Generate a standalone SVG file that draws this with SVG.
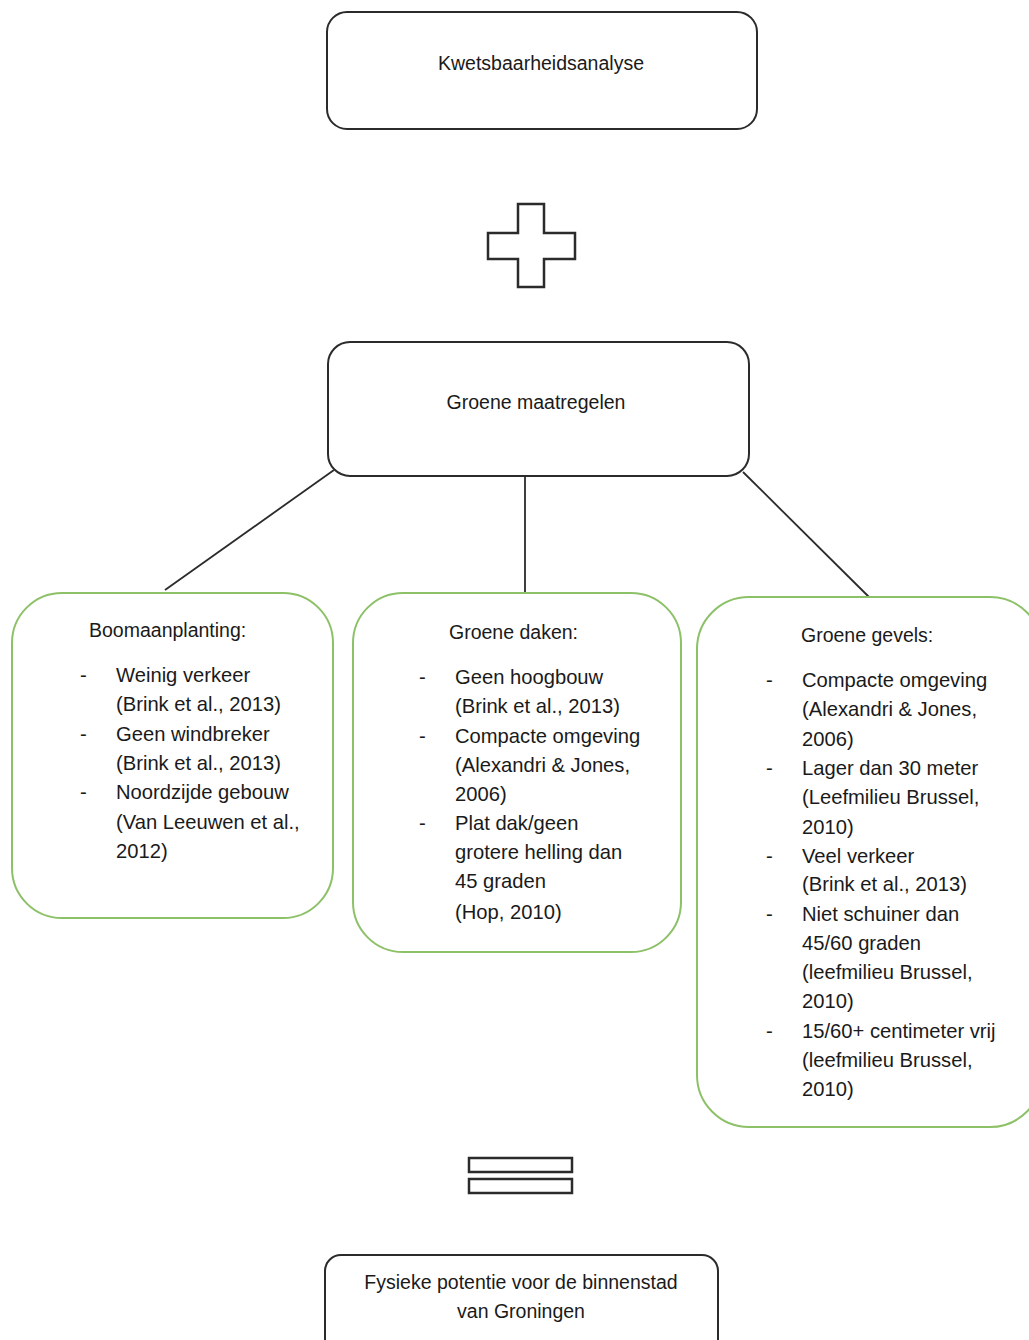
<svg xmlns="http://www.w3.org/2000/svg" width="1029" height="1340" viewBox="0 0 1029 1340">
<style>
  .box { fill: #ffffff; stroke: #2b2b2b; stroke-width: 2; }
  .gbox { fill: #ffffff; stroke: #8cc168; stroke-width: 2; }
  .sym { fill: #ffffff; stroke: #2b2b2b; stroke-width: 2.5; }
  .conn { stroke: #2b2b2b; stroke-width: 1.8; fill: none; }
  text { font-family: "Liberation Sans", Arial, sans-serif; font-size: 19.5px; fill: #1a1a1a; }
  .b { font-size: 20.2px; }
  .c { text-anchor: middle; }
</style>
<rect width="1029" height="1340" fill="#ffffff"/>
<g id="connectors">
  <line class="conn" x1="334" y1="470" x2="165" y2="590"/>
  <line class="conn" x1="525" y1="477" x2="525" y2="595"/>
  <line class="conn" x1="743" y1="472" x2="869" y2="597"/>
</g>
<g id="kwetsbaarheidsanalyse">
  <rect class="box" x="327" y="12" width="430" height="117" rx="20"/>
  <text class="c" x="541" y="70">Kwetsbaarheidsanalyse</text>
</g>
<g id="plus">
  <path class="sym" d="M518,204 H544 V233 H575 V259 H544 V287 H518 V259 H488 V233 H518 Z"/>
</g>
<g id="groene-maatregelen">
  <rect class="box" x="328" y="342" width="421" height="134" rx="22"/>
  <text class="c" x="536" y="409">Groene maatregelen</text>
</g>
<g id="boomaanplanting">
  <rect class="gbox" x="12" y="593" width="321" height="325" rx="50"/>
  <text x="89" y="637">Boomaanplanting:</text>
  <text class="b" x="80" y="682">-</text><text class="b" x="116" y="682">Weinig verkeer</text>
  <text class="b" x="116" y="711">(Brink et al., 2013)</text>
  <text class="b" x="80" y="741">-</text><text class="b" x="116" y="741">Geen windbreker</text>
  <text class="b" x="116" y="770">(Brink et al., 2013)</text>
  <text class="b" x="80" y="799">-</text><text class="b" x="116" y="799">Noordzijde gebouw</text>
  <text class="b" x="116" y="829">(Van Leeuwen et al.,</text>
  <text class="b" x="116" y="858">2012)</text>
</g>
<g id="groene-daken">
  <rect class="gbox" x="353" y="593" width="328" height="359" rx="50"/>
  <text x="449" y="639">Groene daken:</text>
  <text class="b" x="419" y="684">-</text><text class="b" x="455" y="684">Geen hoogbouw</text>
  <text class="b" x="455" y="713">(Brink et al., 2013)</text>
  <text class="b" x="419" y="743">-</text><text class="b" x="455" y="743">Compacte omgeving</text>
  <text class="b" x="455" y="772">(Alexandri &amp; Jones,</text>
  <text class="b" x="455" y="801">2006)</text>
  <text class="b" x="419" y="830">-</text><text class="b" x="455" y="830">Plat dak/geen</text>
  <text class="b" x="455" y="859">grotere helling dan</text>
  <text class="b" x="455" y="888">45 graden</text>
  <text class="b" x="455" y="919">(Hop, 2010)</text>
</g>
<g id="groene-gevels">
  <rect class="gbox" x="697" y="597" width="345" height="530" rx="52"/>
  <text x="801" y="642">Groene gevels:</text>
  <text class="b" x="766" y="687">-</text><text class="b" x="802" y="687">Compacte omgeving</text>
  <text class="b" x="802" y="716">(Alexandri &amp; Jones,</text>
  <text class="b" x="802" y="746">2006)</text>
  <text class="b" x="766" y="775">-</text><text class="b" x="802" y="775">Lager dan 30 meter</text>
  <text class="b" x="802" y="804">(Leefmilieu Brussel,</text>
  <text class="b" x="802" y="834">2010)</text>
  <text class="b" x="766" y="863">-</text><text class="b" x="802" y="863">Veel verkeer</text>
  <text class="b" x="802" y="891">(Brink et al., 2013)</text>
  <text class="b" x="766" y="921">-</text><text class="b" x="802" y="921">Niet schuiner dan</text>
  <text class="b" x="802" y="950">45/60 graden</text>
  <text class="b" x="802" y="979">(leefmilieu Brussel,</text>
  <text class="b" x="802" y="1008">2010)</text>
  <text class="b" x="766" y="1038">-</text><text class="b" x="802" y="1038">15/60+ centimeter vrij</text>
  <text class="b" x="802" y="1067">(leefmilieu Brussel,</text>
  <text class="b" x="802" y="1096">2010)</text>
</g>
<g id="equals">
  <rect class="sym" x="469" y="1158" width="103" height="14"/>
  <rect class="sym" x="469" y="1179" width="103" height="14"/>
</g>
<g id="fysieke-potentie">
  <rect class="box" x="325" y="1255" width="393" height="110" rx="16"/>
  <text class="c" x="521" y="1289">Fysieke potentie voor de binnenstad</text>
  <text class="c" x="521" y="1318">van Groningen</text>
</g>
</svg>
